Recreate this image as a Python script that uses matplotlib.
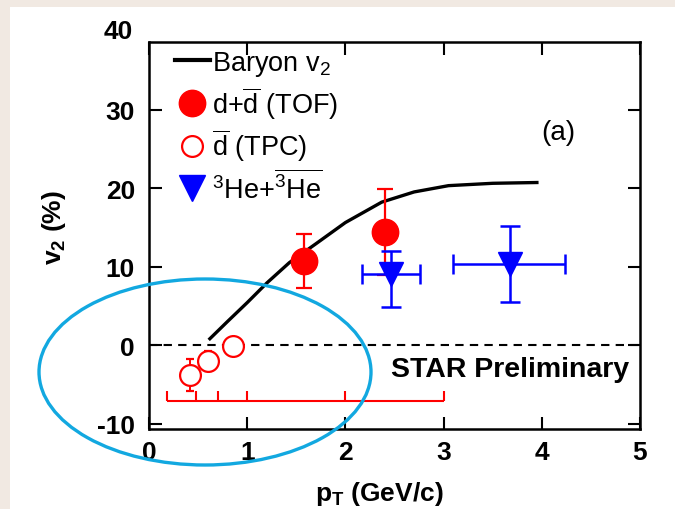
import matplotlib
matplotlib.use("Agg")
import matplotlib.pyplot as plt
from matplotlib.lines import Line2D
from matplotlib.patches import Ellipse, Rectangle

plt.rcParams['font.family'] = ['Liberation Sans', 'DejaVu Sans']
plt.rcParams['mathtext.fontset'] = 'custom'
plt.rcParams['mathtext.rm'] = 'Liberation Sans'
plt.rcParams['mathtext.default'] = 'regular'
plt.rcParams['axes.unicode_minus'] = False

# baryon v2 reference curve
baryon_pt = [0.62, 0.8, 1.0, 1.2, 1.43, 1.7, 2.0, 2.37, 2.7, 3.05, 3.5, 3.95]
baryon_v2 = [0.8, 3.0, 5.4, 7.9, 10.5, 12.9, 15.6, 18.2, 19.5, 20.3, 20.6, 20.7]

# d + dbar from TOF
tof_pt = [1.58, 2.40]
tof_v2 = [10.7, 14.4]
tof_err = [3.5, 5.5]

# dbar from TPC
tpc_pt = [0.42, 0.60, 0.855]
tpc_v2 = [-3.8, -2.0, -0.1]
tpc_err = [2.0, 1.3, 1.0]

# 3He + 3Hebar
he_pt = [2.46, 3.68]
he_v2 = [9.0, 10.3]
he_xlo = [0.29, 0.58]
he_xhi = [0.30, 0.56]
he_ylo = [4.2, 4.8]
he_yhi = [3.0, 4.9]

# pT bin edges used for the TPC points
bin_edges = [0.18, 0.48, 0.70, 1.0, 2.0, 3.0]
bin_base = -7.1
bin_top = -5.8

fig = plt.figure(figsize=(6.75, 5.1), dpi=100)
fig.patch.set_facecolor('#f1e9e2')
fig.patches.append(Rectangle((10 / 675, 0), 1, 1 - 8 / 510, transform=fig.transFigure,
                             facecolor='white', edgecolor='none', zorder=-5))

ax = fig.add_axes([149 / 675, 80 / 510, 491 / 675, 387 / 510])
ax.patch.set_alpha(0)
ax.set_xlim(0, 5)
ax.set_ylim(-10.7, 38.6)

ax.axhline(0, color='black', lw=1.5, ls=(0, (4, 3)), zorder=1)

ax.plot(baryon_pt, baryon_v2, color='black', lw=2.4, zorder=2)

ax.errorbar(tof_pt, tof_v2, yerr=tof_err, fmt='o', color='red', ms=19,
            elinewidth=1.6, capsize=5.5, capthick=1.6, zorder=4)
ax.errorbar(tpc_pt, tpc_v2, yerr=tpc_err, fmt='o', color='red', mfc='white',
            mew=1.6, ms=15, elinewidth=1.4, capsize=3, zorder=4)
ax.errorbar(he_pt, he_v2, xerr=[he_xlo, he_xhi], yerr=[he_ylo, he_yhi], fmt='v',
            color='blue', ms=17, elinewidth=1.8, capsize=7, capthick=1.8, zorder=5)

# bin markers under the TPC points
ax.hlines(bin_base, bin_edges[0], bin_edges[-1], color='red', lw=1.5)
ax.vlines(bin_edges, bin_base, bin_top, color='red', lw=1.5)

handles = [
    Line2D([], [], color='black', lw=3),
    Line2D([], [], marker='o', color='red', ls='none', ms=19),
    Line2D([], [], marker='o', color='red', mfc='none', mew=1.6, ls='none', ms=15),
    Line2D([], [], marker='v', color='blue', ls='none', ms=19),
]
labels = [
    'Baryon v$_2$',
    r'd+$\overline{d}$ (TOF)',
    r'$\overline{d}$ (TPC)',
    r'$^3$He+$\overline{^3He}$',
]
ax.legend(handles, labels, loc='upper left', frameon=False, fontsize=19.5,
          handlelength=1.3, handletextpad=0.1, labelspacing=0.22,
          borderaxespad=0.0, bbox_to_anchor=(0.03, 1.01))

ax.text(4.17, 27.1, '(a)', fontsize=20, ha='center', va='center')
ax.text(2.46, -3.1, 'STAR Preliminary', fontsize=20.5, fontweight='bold',
        ha='left', va='center')

ax.set_xticks([0, 1, 2, 3, 4, 5])
ax.set_yticks([-10, 0, 10, 20, 30])
ax.tick_params(direction='in', length=9, width=1.5, top=True, right=True,
               labelsize=19, pad=8)
ax.tick_params(axis='y', pad=10)
for lab in ax.get_xticklabels() + ax.get_yticklabels():
    lab.set_fontweight('bold')
# top label sits just above the frame
ax.text(-0.032, 40, '40', transform=ax.get_yaxis_transform(), fontsize=19,
        fontweight='bold', ha='right', va='center', clip_on=False)

for s in ax.spines.values():
    s.set_linewidth(1.8)

ax.set_xlabel('p$_T$ (GeV/c)', fontsize=19, fontweight='bold')
ax.set_ylabel('v$_2$ (%)', fontsize=19, fontweight='bold')
ax.xaxis.set_label_coords(0.47, -0.13)
ax.yaxis.set_label_coords(-0.165, 0.522)

# highlight around the low-pT antideuteron points
fig.patches.append(Ellipse((205 / 675, 1 - 373 / 510), 332 / 675, 186 / 510,
                           transform=fig.transFigure, fill=False,
                           edgecolor='#12a8e0', lw=2.4, zorder=10))

fig.savefig('out.png', dpi=100, facecolor=fig.get_facecolor())
